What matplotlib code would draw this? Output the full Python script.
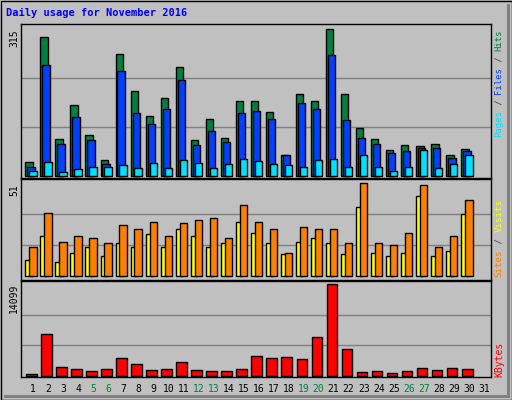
import matplotlib
matplotlib.use("Agg")
import matplotlib.pyplot as plt
from matplotlib.patches import Rectangle

days = list(range(1, 32))
hits   = [31,298,79,152,88,34,261,182,129,167,234,77,122,81,161,161,137,45,176,161,315,176,103,79,56,66,64,69,45,58,0]
files  = [21,238,69,126,77,26,225,135,111,144,206,66,96,73,135,139,122,45,156,144,259,120,81,69,49,54,60,60,39,54,0]
pages  = [11,30,9,15,19,21,24,17,28,17,34,28,17,26,36,32,26,24,21,34,36,19,45,19,11,21,56,17,26,45,0]
sites  = [9,22,8,13,16,11,18,16,23,16,26,22,16,18,30,24,18,12,19,21,18,12,38,13,11,13,44,11,14,34,0]
visits = [16,35,19,22,21,18,28,26,30,22,29,31,32,21,39,30,26,13,27,26,26,18,51,18,17,24,50,16,22,42,0]
kbytes = [200,6380,1290,980,670,980,2680,1750,820,980,2060,820,670,670,980,2980,2680,2830,2520,5920,14099,4060,510,670,360,670,1130,820,1130,980,0]
weekend = [5,6,12,13,19,20,26,27]
max_hits, max_sites, max_kb = 315, 51, 14099

W, H = 512, 400
fig = plt.figure(figsize=(W/100, H/100), dpi=100)
fig.patch.set_facecolor("#C0C0C0")
bg = fig.add_axes([0, 0, 1, 1]); bg.set_xlim(0, W); bg.set_ylim(H, 0); bg.axis("off")
bg.add_patch(Rectangle((0.5, 0.5), W-1, H-1, fill=False, ec="black", lw=1))
bg.add_patch(Rectangle((W-5, 4), 3, H-6, color="#808080", lw=0))
bg.add_patch(Rectangle((4, H-5), W-6, 3, color="#808080", lw=0))
bg.text(6, 16, "Daily usage for November 2016", color="#0000FF", fontsize=7.5,
        fontweight="bold", family="DejaVu Sans Mono")

L, R = 21, 491
def mkax(top, bot, ylo, yhi):
    ax = fig.add_axes([L/W, 1-bot/H, (R-L)/W, (bot-top)/H])
    ax.set_facecolor("#C0C0C0")
    ax.set_xlim(0.2, 31.47); ax.set_ylim(ylo, yhi)
    ax.set_xticks([]); ax.set_yticks([])
    for s in ax.spines.values():
        s.set_color("black"); s.set_linewidth(1)
    return ax

kw = dict(ec="black", lw=1, align="edge", zorder=3)
def bars(ax, vals, off, width, color):
    xs = [d+off for d, v in zip(days, vals) if v > 0]
    vs = [v for v in vals if v > 0]
    ax.bar(xs, vs, width=width, color=color, **kw)

ax1 = mkax(24, 178, -3.6, 326)
for g in (max_hits/3, 2*max_hits/3):
    ax1.axhline(g, color="#808080", lw=1, zorder=1)
bars(ax1, hits, -0.51, 0.49, "#008040")
bars(ax1, files, -0.38, 0.49, "#0040FF")
bars(ax1, pages, -0.25, 0.49, "#00E0FF")

ax2 = mkax(179, 280, -2.05, 53.4)
for g in (max_sites/3, 2*max_sites/3):
    ax2.axhline(g, color="#808080", lw=1, zorder=1)
bars(ax2, sites, -0.51, 0.49, "#FFFF00")
bars(ax2, visits, -0.25, 0.49, "#FF8000")

ax3 = mkax(281, 377, -200, 14609)
for g in (max_kb/3, 2*max_kb/3):
    ax3.axhline(g, color="#808080", lw=1, zorder=1)
bars(ax3, kbytes, -0.47, 0.71, "#FF0000")

mono = "DejaVu Sans Mono"
for d in days:
    x = L + (d-0.2)/(31.47-0.2)*(R-L)
    bg.text(x, 389, str(d), ha="center", va="center", fontsize=7, family=mono,
            color="#008040" if d in weekend else "black")

for txt, top in (("315", 29), ("51", 184), ("14099", 284)):
    bg.text(14, top, txt, rotation=90, ha="center", va="top", fontsize=7, family=mono)

def side(parts, bottom, cw, fs):
    i = 0
    for t, c in parts:
        bg.text(499, bottom - i*cw, t, rotation=90, ha="center", va="bottom",
                fontsize=fs, family=mono, color=c)
        i += len(t)
side([("Pages", "#00E0FF"), (" / ", "#404040"), ("Files", "#0040FF"),
      (" / ", "#404040"), ("Hits", "#008040")], 137, 5.4, 6.4)
side([("Sites", "#FF8000"), (" / ", "#404040"), ("Visits", "#FFFF00")], 277, 5.6, 6.6)
side([("KBytes", "#FF0000")], 377, 6, 7)

fig.savefig("out.png", dpi=100, facecolor=fig.get_facecolor())
